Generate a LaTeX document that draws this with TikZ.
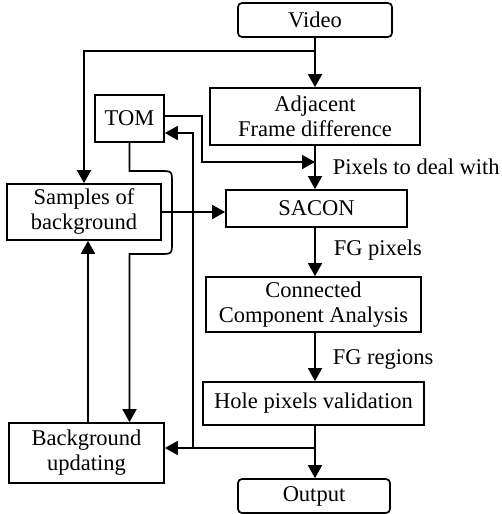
\documentclass[tikz,border=0pt]{standalone}
\usepackage{fontspec}
\setmainfont{Liberation Serif}
\usetikzlibrary{arrows.meta}
\begin{document}
\begin{tikzpicture}[x=1pt,y=-1pt,line width=1.7pt,
  box/.style={draw, inner sep=0pt, align=center, font=\fontsize{22.5}{25}\selectfont},
  lbl/.style={inner sep=0pt, font=\fontsize{22.5}{25}\selectfont},
  arr/.style={-{Triangle[length=13pt,width=14pt]}}]
\useasboundingbox (0,0) rectangle (501,514);
% nodes
\node[box, rounded corners=4pt, minimum width=154pt, minimum height=34pt] (video) at (315,20) {Video};
\node[box, minimum width=210pt, minimum height=57pt] (afd) at (315,116.5) {Adjacent\\Frame difference};
\node[box, minimum width=69pt, minimum height=47pt] (tom) at (129.5,118.5) {TOM};
\node[box, minimum width=154pt, minimum height=56pt] (samp) at (84,212) {Samples of\\background};
\node[box, minimum width=181pt, minimum height=37pt] (sacon) at (316.5,208.5) {SACON};
\node[box, minimum width=215pt, minimum height=55pt] (cca) at (313.5,304.5) {Connected\\Component Analysis};
\node[box, minimum width=221pt, minimum height=43pt] (hole) at (313.5,403.5) {Hole pixels validation};
\node[box, minimum width=155pt, minimum height=60pt] (bgu) at (86.5,453) {Background\\updating};
\node[box, rounded corners=4pt, minimum width=152pt, minimum height=34pt] (out) at (314,496) {Output};
% labels
\node[lbl, anchor=base west] (l1) at (332,174) {Pixels to deal with};
\node[lbl, anchor=base west] (l2) at (333,255) {FG pixels};
\node[lbl, anchor=base west] (l3) at (332,364) {FG regions};
% coordinates
\coordinate (j1) at (315,51);
\coordinate (t1) at (202,116);
\coordinate (t2) at (202,162);
\coordinate (m1) at (315,162);
\coordinate (m2) at (315,448);
\coordinate (b1) at (193,448);
\coordinate (b2) at (193,133);
\coordinate (c1) at (129.5,171);
\coordinate (c2) at (129.5,254);
\coordinate (u1) at (88,0);
% main column
\draw[arr] (video.south) -- (afd.north);
\draw[arr] (afd.south) -- (afd.south |- sacon.north);
\draw[arr] (sacon.south -| j1) -- (cca.north -| j1);
\draw[arr] (cca.south -| j1) -- (hole.north -| j1);
\draw[arr] (hole.south -| j1) -- (out.north -| j1);
% side connections
\draw[arr] (j1) -| (samp.north);
\draw[arr] ([yshift=2.5pt]tom.east) -- (t1) -- (t2) -- (m1);
\draw[arr] (samp.east) -- (samp.east -| sacon.west);
\draw[arr] (m2) -- (bgu.east |- m2);
\draw[arr] (b1) -- (b2) -- (b2 -| tom.east);
\draw[arr] (bgu.north -| u1) -- (samp.south -| u1);
\draw[arr] (tom.south) -- (c1) -- (160,171) .. controls (172,171) .. (172,183) -- (172,242) .. controls (172,254) .. (160,254) -- (c2) -- (c2 |- bgu.north);
\end{tikzpicture}
\end{document}
